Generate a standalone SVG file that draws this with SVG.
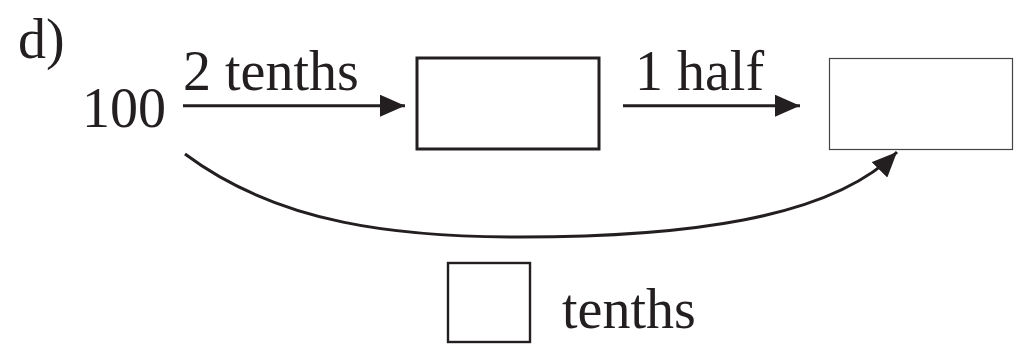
<svg xmlns="http://www.w3.org/2000/svg" width="1022" height="344" viewBox="0 0 1022 344">
<style>
text{font-family:"Liberation Serif","Times New Roman",serif;font-size:56px;fill:#231f20}
.conn{fill:none;stroke:#231f20;stroke-width:3}
</style>
<defs>
<marker id="ah" markerUnits="userSpaceOnUse" markerWidth="26" markerHeight="22" refX="25" refY="11" orient="auto" viewBox="0 0 26 22">
<path d="M0,0 L25,11 L0,22 z" fill="#231f20"/>
</marker>
</defs>
<rect width="1022" height="344" fill="#fff"/>
<g id="label-d"><text x="18" y="58">d)</text></g>
<g id="start"><text x="82" y="127">100</text></g>
<g id="box1"><rect x="417" y="58" width="182" height="91" fill="#fff" stroke="#231f20" stroke-width="3"/></g>
<g id="box2"><rect x="829.5" y="58.5" width="183" height="91" fill="#fff" stroke="#444" stroke-width="1.2"/></g>
<g id="answer"><rect x="448" y="263" width="82" height="79" fill="#fff" stroke="#231f20" stroke-width="2.4"/><text x="562" y="328">tenths</text></g>
<g id="connectors">
<path class="conn" d="M183,105.7 L405,105.7" marker-end="url(#ah)"/>
<text x="183" y="90">2 tenths</text>
<path class="conn" d="M623,105.7 L800,105.7" marker-end="url(#ah)"/>
<text x="635" y="90">1 half</text>
<path class="conn" stroke-width="2.6" d="M185,154 C280,225 400,237 520,237 C680,237 830,220 897,152" marker-end="url(#ah)"/>
</g>
</svg>
